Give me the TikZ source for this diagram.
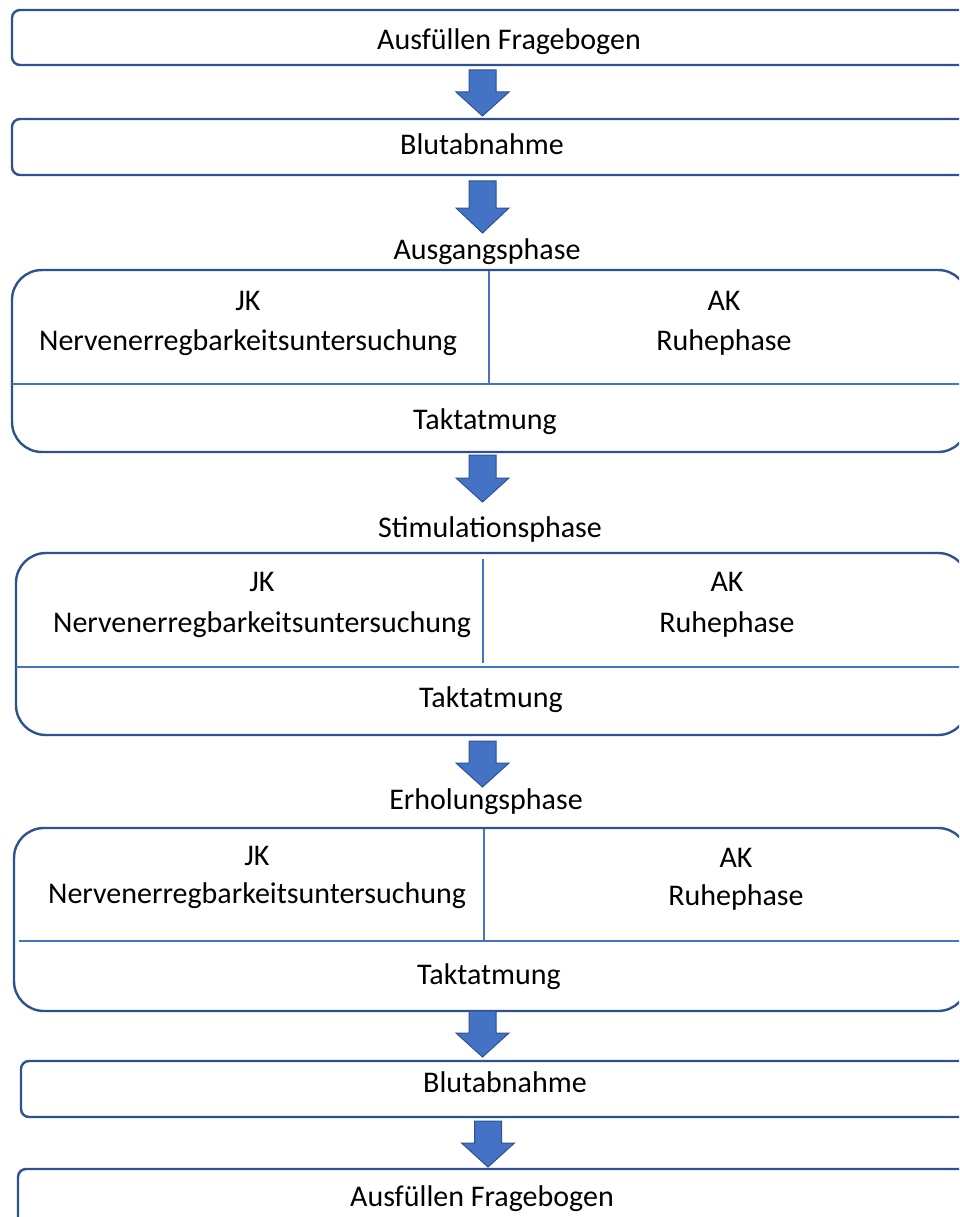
\documentclass[tikz,border=0pt]{standalone}
\usepackage{fontspec}
\setmainfont{Carlito}
\definecolor{edge}{HTML}{2F528F}
\definecolor{fillb}{HTML}{4472C4}
\begin{document}
\begin{tikzpicture}[x=1pt,y=-1pt,
  frame/.style={draw=edge,line width=2.4pt},
  divider/.style={draw=fillb,line width=1.1pt},
  blockarrow/.style={fill=fillb,draw=edge,line width=1pt,line join=miter},
  txt/.style={font=\fontsize{30}{35}\selectfont,inner sep=0pt,anchor=base,text=black}]
\useasboundingbox (0,0) rectangle (959,1217);
\clip (0,0) rectangle (959,1217);
\fill[white] (0,0) rectangle (959,1217);

% simple boxes
\draw[frame,rounded corners=8pt] (12,10) rectangle (1010,65);
\draw[frame,rounded corners=8pt] (12,119) rectangle (1010,175);
\draw[frame,rounded corners=8pt] (21,1061) rectangle (1010,1117);
\draw[frame,rounded corners=8pt] (18,1169) rectangle (1010,1260);

% phase boxes
\draw[frame,rounded corners=30pt] (12,270) rectangle (968,452);
\draw[divider] (12,384) -- (968,384);
\draw[divider] (489,271) -- (489,384);

\draw[frame,rounded corners=30pt] (16,553) rectangle (968,735);
\draw[divider] (16,667) -- (968,667);
\draw[divider] (483,559) -- (483,663);

\draw[frame,rounded corners=30pt] (14,828) rectangle (968,1011);
\draw[divider] (19,941) -- (968,941);
\draw[divider] (484,829) -- (484,940);

% block arrows: centre x, shaft top, head start, tip
\foreach \cx/\ta/\hs/\tp in {482.5/70/92/116, 482.5/181/208/233, 482.5/455/478/502,
                              482.5/741/763/787, 482.5/1011/1033/1057, 488/1121/1143/1167}{
  \draw[blockarrow] (\cx-13.5,\ta) -- (\cx+13.5,\ta) -- (\cx+13.5,\hs) -- (\cx+26.5,\hs)
     -- (\cx,\tp) -- (\cx-26.5,\hs) -- (\cx-13.5,\hs) -- cycle;
}

% texts
\node[txt] (t1) at (509,50) {Ausfüllen Fragebogen};
\node[txt] (t2) at (482,155) {Blutabnahme};
\node[txt] (p1) at (487,259) {Ausgangsphase};
\node[txt] (p1jk) at (248,310) {JK};
\node[txt] (p1n) at (248,350) {Nervenerregbarkeitsuntersuchung};
\node[txt] (p1ak) at (724,310) {AK};
\node[txt] (p1r) at (724,350) {Ruhephase};
\node[txt] (p1t) at (485,429) {Taktatmung};

\node[txt] (p2) at (490,537) {Stimulationsphase};
\node[txt] (p2jk) at (262,591) {JK};
\node[txt] (p2n) at (262,632) {Nervenerregbarkeitsuntersuchung};
\node[txt] (p2ak) at (727,591) {AK};
\node[txt] (p2r) at (727,632) {Ruhephase};
\node[txt] (p2t) at (491,707) {Taktatmung};

\node[txt] (p3) at (486,809) {Erholungsphase};
\node[txt] (p3jk) at (257,865) {JK};
\node[txt] (p3n) at (257,903) {Nervenerregbarkeitsuntersuchung};
\node[txt] (p3ak) at (736,867) {AK};
\node[txt] (p3r) at (736,905) {Ruhephase};
\node[txt] (p3t) at (489,984) {Taktatmung};

\node[txt] (t3) at (505,1092) {Blutabnahme};
\node[txt] (t4) at (482,1206) {Ausfüllen Fragebogen};
\end{tikzpicture}
\end{document}
